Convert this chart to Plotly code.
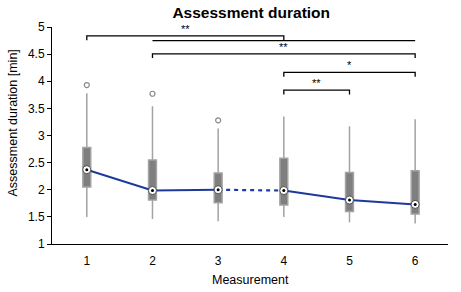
import plotly.graph_objects as go

measurements = [1, 2, 3, 4, 5, 6]
q1 = [2.05, 1.81, 1.76, 1.72, 1.60, 1.555]
medians = [2.37, 1.985, 2.00, 1.985, 1.81, 1.73]
q3 = [2.78, 2.55, 2.31, 2.58, 2.32, 2.35]
whisker_low = [1.50, 1.46, 1.42, 1.50, 1.40, 1.38]
whisker_high = [3.78, 3.54, 3.13, 3.35, 3.17, 3.30]
outlier_x = [1, 2, 3]
outlier_y = [3.93, 3.77, 3.28]

# significance brackets: (from, to, y level, tick depth, label, label x)
brackets = [
    (1, 4, 4.835, 0.08, "**", 2.5),
    (2, 6, 4.505, 0.075, "**", 4.0),
    (4, 6, 4.165, 0.08, "*", 5.0),
    (4, 5, 3.835, 0.08, "**", 4.5),
]
plain_lines = [(2, 6, 4.748)]

GRAY_BOX = "#7f7f7f"
GRAY_WHISK = "#a3a3a3"
BLUE = "#1c3a9c"

fig = go.Figure()

fig.add_trace(go.Box(
    x=measurements, q1=q1, median=medians, q3=q3,
    lowerfence=whisker_low, upperfence=whisker_high,
    fillcolor=GRAY_BOX, line=dict(color=GRAY_WHISK, width=1.5),
    width=0.12, whiskerwidth=0, boxpoints=False, showlegend=False,
    hoverinfo="skip",
))

fig.add_trace(go.Scatter(
    x=outlier_x, y=outlier_y, mode="markers",
    marker=dict(symbol="circle-open", size=5, color="#8a8a8a", line=dict(width=1.2)),
    showlegend=False,
))

# median line: solid 1-3, dashed 3-4, solid 4-6
fig.add_trace(go.Scatter(x=measurements[:3], y=medians[:3], mode="lines",
                         line=dict(color=BLUE, width=2), showlegend=False))
fig.add_trace(go.Scatter(x=measurements[2:4], y=medians[2:4], mode="lines",
                         line=dict(color=BLUE, width=2.2, dash="4px,4px"), showlegend=False))
fig.add_trace(go.Scatter(x=measurements[3:], y=medians[3:], mode="lines",
                         line=dict(color=BLUE, width=2), showlegend=False))

fig.add_trace(go.Scatter(
    x=measurements, y=medians, mode="markers",
    marker=dict(symbol="circle", size=8, color="white", line=dict(color="#333333", width=0.8)),
    showlegend=False,
))
fig.add_trace(go.Scatter(
    x=measurements, y=medians, mode="markers",
    marker=dict(symbol="circle", size=3, color="black"),
    showlegend=False,
))

for (a, b, y, d, label, lx) in brackets:
    fig.add_shape(type="path",
                  path=f"M {a},{y - d} L {a},{y} L {b},{y} L {b},{y - d}",
                  xref="x", yref="y", line=dict(color="black", width=1.3))
    fig.add_annotation(x=lx, y=y, text=label, showarrow=False, yshift=7,
                       font=dict(size=11, color="black", family="Liberation Sans"))
for (a, b, y) in plain_lines:
    fig.add_shape(type="line", x0=a, x1=b, y0=y, y1=y, xref="x", yref="y",
                  line=dict(color="black", width=1.3))

# axis titles as annotations for precise placement
fig.add_annotation(text="Assessment duration [min]", textangle=-90, showarrow=False,
                   xref="paper", yref="paper", x=-0.0985, y=0.56,
                   xanchor="center", yanchor="middle", font=dict(size=12.5, color="black"))
fig.add_annotation(text="Measurement", showarrow=False,
                   xref="paper", yref="paper", x=0.5, y=-0.166,
                   xanchor="center", yanchor="middle", font=dict(size=12.5, color="black"))

fig.update_layout(
    width=461, height=292,
    margin=dict(l=52, r=13, t=27, b=48, autoexpand=False),
    paper_bgcolor="white", plot_bgcolor="white",
    font=dict(family="Liberation Sans, Arial, sans-serif", color="black", size=12),
    title=dict(text="<b>Assessment duration</b>", x=0.545, xanchor="center",
               y=0.958, yanchor="middle", font=dict(size=15.5)),
    xaxis=dict(range=[0.47, 6.5], tickvals=measurements, ticktext=[str(m) for m in measurements],
               showgrid=False, zeroline=False, showline=True, linecolor="black", linewidth=1,
               ticks="", ticklen=0, automargin=False, ticklabelstandoff=6),
    yaxis=dict(range=[1, 5], tickvals=[1, 1.5, 2, 2.5, 3, 3.5, 4, 4.5, 5],
               ticktext=["1", "1.5", "2", "2.5", "3", "3.5", "4", "4.5", "5"],
               showgrid=False, zeroline=False, showline=True, linecolor="black", linewidth=1,
               ticks="outside", ticklen=4, tickcolor="black", automargin=False),
)

fig.write_html("out.html", post_script="document.body.style.margin='0';",
               config={"displayModeBar": False})
